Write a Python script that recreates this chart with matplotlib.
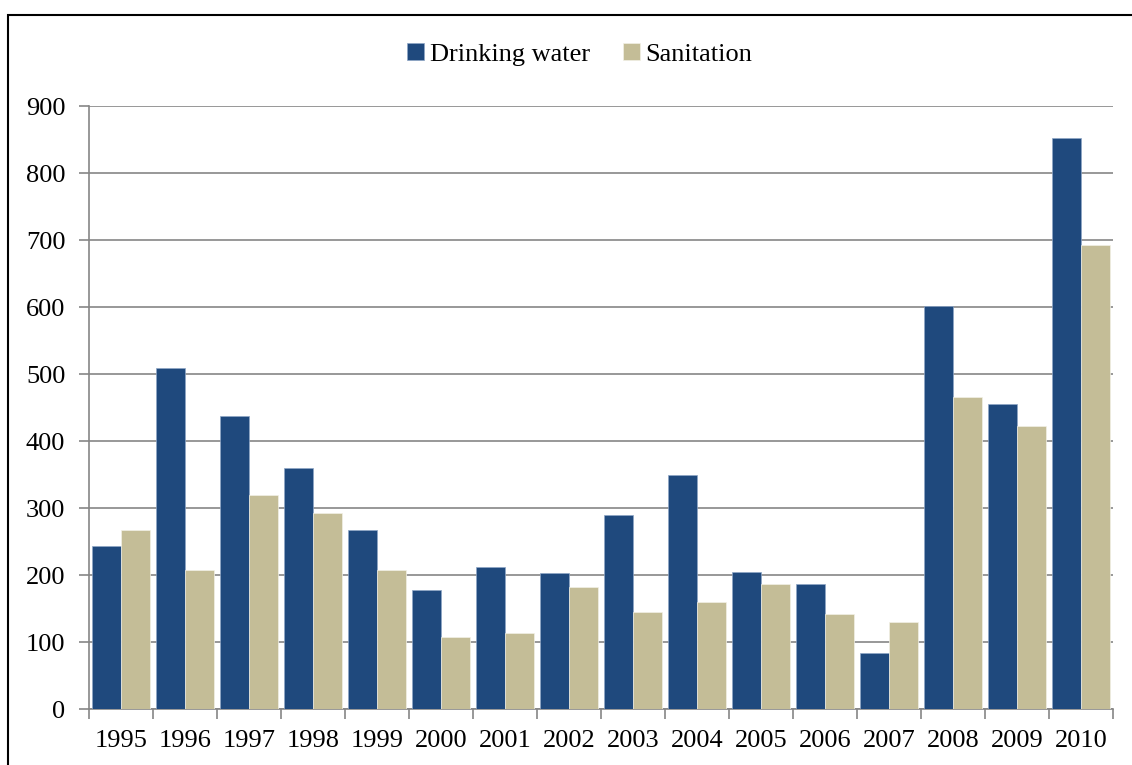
import matplotlib.pyplot as plt
import numpy as np
from matplotlib.patches import Rectangle

years = ["1995", "1996", "1997", "1998", "1999", "2000", "2001", "2002",
         "2003", "2004", "2005", "2006", "2007", "2008", "2009", "2010"]
drinking_water = [243, 509, 437, 360, 267, 178, 212, 203, 289, 349, 205, 187, 83, 601, 455, 853]
sanitation = [267, 208, 319, 293, 207, 108, 113, 182, 145, 159, 187, 142, 130, 465, 422, 693]

plt.rcParams["font.family"] = ["Liberation Serif", "DejaVu Serif"]

fig = plt.figure(figsize=(11.32, 7.65), dpi=100)
ax = fig.add_axes([0.0786, 0.0732, 0.9046, 0.7882])

x = np.arange(len(years))
w = 0.45
ax.bar(x - w / 2, drinking_water, w, color="#1F497D", edgecolor="#8EA6C6",
       linewidth=0.5, label="Drinking water", zorder=3)
ax.bar(x + w / 2, sanitation, w, color="#C4BD97", edgecolor="#F2F0E6",
       linewidth=0.5, label="Sanitation", zorder=3)

ax.set_xlim(-0.5, len(years) - 0.5)
ax.set_ylim(0, 900)
ax.set_yticks(range(0, 901, 100))
ax.yaxis.grid(True, color="#868686", linewidth=1.2, zorder=0)

ax.set_xticks(x)
ax.set_xticklabels(years)
ax.set_xticks(np.arange(-0.5, len(years), 1), minor=True)
ax.tick_params(axis="x", which="major", length=0, pad=15, labelsize=19)
ax.tick_params(axis="x", which="minor", length=7, width=1.2, color="#868686")
ax.tick_params(axis="y", length=7, width=1.2, color="#868686", pad=10, labelsize=19)

for side in ["top", "right"]:
    ax.spines[side].set_visible(False)
for side in ["left", "bottom"]:
    ax.spines[side].set_color("#868686")
    ax.spines[side].set_linewidth(1.2)

fig.legend(loc="center", bbox_to_anchor=(0.512, 0.929), ncol=2, frameon=False,
           fontsize=19, handlelength=0.65, handleheight=0.65, handletextpad=0.2,
           columnspacing=1.25)

fig.patches.append(Rectangle((8 / 1132, -0.1), 1.2, 1.1 - 15 / 765,
                             transform=fig.transFigure, fill=False,
                             edgecolor="black", linewidth=1.5))

fig.savefig("out.png", dpi=100)
